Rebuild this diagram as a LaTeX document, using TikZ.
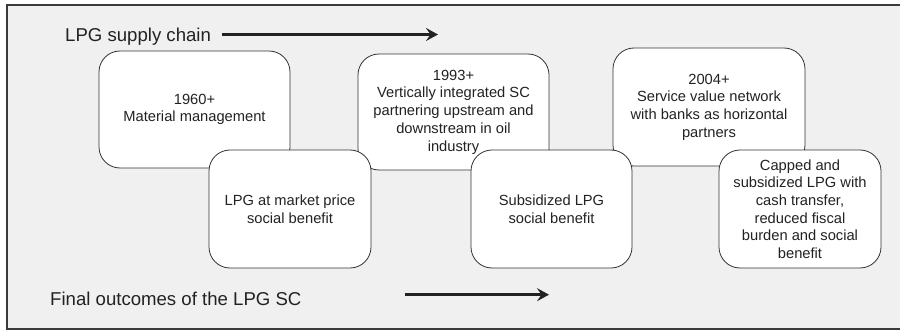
\documentclass[tikz,border=0pt]{standalone}
\usepackage{fontspec}
\setmainfont{Liberation Sans}
\usetikzlibrary{arrows.meta}
\definecolor{framegray}{HTML}{3A3A3A}
\definecolor{bggray}{HTML}{F0F0F0}
\definecolor{linegray}{HTML}{333333}
\definecolor{txtgray}{HTML}{222222}
\tikzset{
  box/.style={draw=linegray, line width=0.8pt, fill=white, rounded corners=21pt,
    align=center, inner sep=0pt, text=txtgray,
    font=\fontsize{14.7}{17.7}\selectfont},
  title/.style={inner sep=0pt, text=txtgray, font=\fontsize{18.6}{22}\selectfont},
  bigarrow/.style={draw=txtgray, line width=2.5pt, -{Stealth[length=12pt,width=13pt,inset=4.5pt]}}
}
\begin{document}
\begin{tikzpicture}[x=1pt,y=1pt]
\useasboundingbox (0,0) rectangle (900,330);
\begin{scope}
\clip (0,0) rectangle (900,330);
\draw[draw=framegray, line width=2pt, fill=bggray] (7,1) rectangle (910,325);
\end{scope}
% top row
\node[box, minimum width=191pt, minimum height=117pt] (b1) at (194.5,220.5) {1960+\\Material management};
\node[box, minimum width=191pt, minimum height=116pt] (b2) at (453.5,218) {1993+\\Vertically integrated SC\\partnering upstream and\\downstream in oil\\industry};
\node[box, minimum width=192pt, minimum height=118pt] (b3) at (709,223) {2004+\\Service value network\\with banks as horizontal\\partners};
% bottom row
\node[box, minimum width=162pt, minimum height=118pt] (o1) at (290,121) {LPG at market price\\social benefit};
\node[box, minimum width=161pt, minimum height=118pt] (o2) at (551.5,121) {Subsidized LPG\\social benefit};
\node[box, minimum width=162pt, minimum height=118pt] (o3) at (800,121) {Capped and\\subsidized LPG with\\cash transfer,\\reduced fiscal\\burden and social\\benefit};
% titles and arrows
\node[title, anchor=base west] (t1) at (65,288.5) {LPG supply chain};
\coordinate (a1s) at (222,295.5);
\coordinate (a1e) at (438,295.5);
\draw[bigarrow] (a1s) -- (a1e);
\node[title, anchor=base west] (t2) at (50,25) {Final outcomes of the LPG SC};
\coordinate (a2s) at (405,35.3);
\coordinate (a2e) at (549,35.3);
\draw[bigarrow] (a2s) -- (a2e);
\end{tikzpicture}
\end{document}
